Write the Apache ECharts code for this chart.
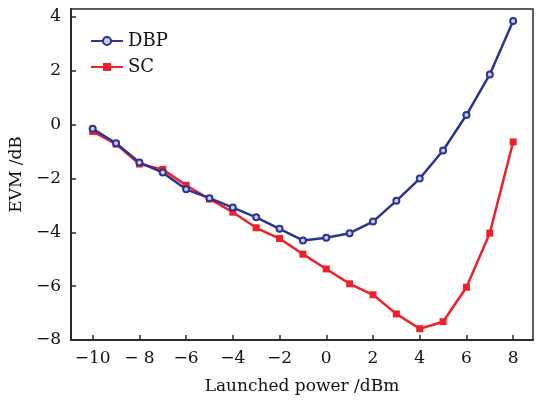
<!DOCTYPE html>
<html>
<head>
<meta charset="utf-8">
<script src="https://cdn.jsdelivr.net/npm/echarts@6/dist/echarts.min.js"></script>
<style>html,body{margin:0;padding:0;background:#fff}#c{width:542px;height:400px}</style>
</head>
<body>
<div id="c"></div>
<script>
var power = [-10,-9,-8,-7,-6,-5,-4,-3,-2,-1,0,1,2,3,4,5,6,7,8];
var dbp = [-0.15,-0.69,-1.4,-1.78,-2.4,-2.73,-3.08,-3.44,-3.87,-4.3,-4.2,-4.03,-3.6,-2.83,-2.0,-0.96,0.36,1.87,3.85];
var sc = [-0.25,-0.72,-1.46,-1.66,-2.25,-2.76,-3.25,-3.83,-4.23,-4.81,-5.36,-5.91,-6.32,-7.03,-7.58,-7.32,-6.04,-4.03,-0.64];
var xTicks = [-10,-8,-6,-4,-2,0,2,4,6,8];
var yTicks = [-8,-6,-4,-2,0,2,4];

var font = '"DejaVu Serif", "Liberation Serif", serif';
function fmt(v){ v = Math.round(v); if (v === -8) return '\u2212 8'; return v < 0 ? '\u2212' + Math.abs(v) : String(v); }
function fmtY(v){ v = Math.round(v); return v < 0 ? '\u2212' + Math.abs(v) : String(v); }
function pairs(ys){ return power.map(function(x,i){ return [x, ys[i]]; }); }

var chart = echarts.init(document.getElementById('c'), null, {renderer:'canvas'});
chart.setOption({
  animation: false,
  backgroundColor: '#fff',
  grid: { left: 67, right: 9, top: 9, bottom: 56, show: true, borderColor: '#2a2a2a', borderWidth: 1.5, backgroundColor: 'transparent' },
  legend: {
    left: 85, top: 27, orient: 'vertical', itemGap: 8, itemWidth: 32, itemHeight: 10,
    textStyle: { fontFamily: font, fontSize: 18, color: '#111' },
    data: ['DBP','SC']
  },
  xAxis: {
    type: 'value', min: -10.93, max: 8.85,
    name: 'Launched power /dBm', nameLocation: 'middle', nameGap: 38,
    nameTextStyle: { fontFamily: font, fontSize: 17, color: '#111' },
    axisLine: { show: true, onZero: false, lineStyle: { color: '#2a2a2a', width: 2 } },
    axisTick: { show: true, inside: true, length: 5, customValues: xTicks, lineStyle: { color: '#2a2a2a', width: 1.5 } },
    axisLabel: { customValues: xTicks, formatter: fmt, fontFamily: font, fontSize: 17, color: '#111', margin: 10 },
    splitLine: { show: false }
  },
  yAxis: {
    type: 'value', min: -8, max: 4.3,
    name: 'EVM /dB', nameLocation: 'middle', nameGap: 41,
    nameTextStyle: { fontFamily: font, fontSize: 17, color: '#111' },
    axisLine: { show: true, onZero: false, lineStyle: { color: '#2a2a2a', width: 2 } },
    axisTick: { show: true, inside: true, length: 5, customValues: yTicks, lineStyle: { color: '#2a2a2a', width: 1.5 } },
    axisLabel: { customValues: yTicks, formatter: fmtY, fontFamily: font, fontSize: 17, color: '#111', margin: 10 },
    splitLine: { show: false }
  },
  series: [
    { name: 'DBP', type: 'line', data: pairs(dbp), symbol: 'circle', symbolSize: 6,
      lineStyle: { color: '#2b3490', width: 2.5 },
      itemStyle: { color: '#c9cde8', borderColor: '#2b3490', borderWidth: 2 }, z: 3 },
    { name: 'SC', type: 'line', data: pairs(sc), symbol: 'rect', symbolSize: 7,
      lineStyle: { color: '#f0202a', width: 2.5 },
      itemStyle: { color: '#f0202a', borderColor: '#f0202a', borderWidth: 0 }, z: 2 }
  ]
});
</script>
</body>
</html>
